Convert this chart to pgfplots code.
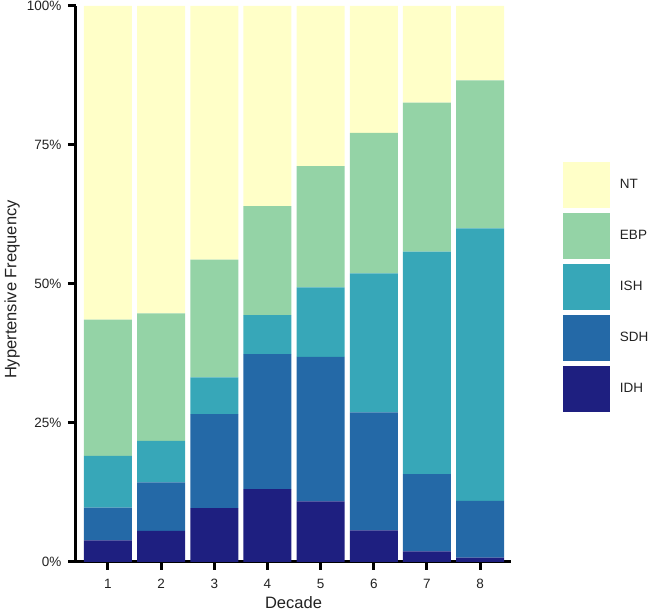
\documentclass[border=0pt]{standalone}
\usepackage{fontspec}
\setmainfont{Liberation Sans}
\usepackage{pgfplots}
\usepackage{pgfplotstable}
\pgfplotsset{compat=1.18}
\definecolor{cNT}{HTML}{FFFFC8}
\definecolor{cEBP}{HTML}{94D3A6}
\definecolor{cISH}{HTML}{37A7B8}
\definecolor{cSDH}{HTML}{2469A7}
\definecolor{cIDH}{HTML}{1E1F80}
\definecolor{txt}{HTML}{222222}
\pgfplotstableread{
x IDH SDH ISH EBP NT
1 3.9 5.9 9.3 24.5 56.4
2 5.6 8.7 7.5 22.9 55.3
3 9.7 16.9 6.6 21.2 45.6
4 13.1 24.3 7.0 19.6 36.0
5 10.9 26.0 12.5 21.8 28.8
6 5.7 21.2 25.0 25.3 22.8
7 1.9 13.9 40.0 26.8 17.4
8 0.8 10.2 49.0 26.6 13.4
}\datatable
\begin{document}
\begin{tikzpicture}
\begin{axis}[
  scale only axis,
  width=435pt, height=556pt,
  xmin=0.4, xmax=8.58, ymin=0, ymax=100,
  ybar stacked, bar width=48pt,
  axis lines*=left,
  axis line style={line width=3pt, black},
  xtick={1,...,8},
  ytick={0,25,50,75,100},
  yticklabels={0\%,25\%,50\%,75\%,100\%},
  tick align=outside,
  major tick length=8pt,
  tick style={line width=3pt, black},
  /pgf/number format/assume math mode=true,
  ticklabel style={font=\fontsize{13.5}{15}\selectfont, text=txt},
  xticklabel style={yshift=-6pt},
  yticklabel style={xshift=-3pt},
  label style={font=\fontsize{16.5}{19}\selectfont, text=txt},
  xlabel={Decade},
  ylabel={Hypertensive Frequency},
  xlabel style={at={(axis description cs:0.5,-0.0725)}, anchor=center},
  ylabel style={at={(axis description cs:-0.147,0.49)}, anchor=center, rotate=0},
  reverse legend,
  legend style={at={(axis description cs:1.1195,0.7194)}, anchor=north west,
    draw=none, fill=none, inner sep=0pt, outer sep=0pt,
    row sep=5pt, column sep=0pt,
    font=\fontsize{13.5}{15}\selectfont, text=txt,
    cells={anchor=west}},
  legend image code/.code={\fill[#1] (0pt,-23pt) rectangle (47pt,23pt);},
  legend cell align=left,
]
\addplot[fill=cIDH, draw=none] table[x=x, y=IDH] {\datatable};
\addplot[fill=cSDH, draw=none] table[x=x, y=SDH] {\datatable};
\addplot[fill=cISH, draw=none] table[x=x, y=ISH] {\datatable};
\addplot[fill=cEBP, draw=none] table[x=x, y=EBP] {\datatable};
\addplot[fill=cNT, draw=none] table[x=x, y=NT] {\datatable};
\legend{\hspace{8pt}IDH,\hspace{8pt}SDH,\hspace{8pt}ISH,\hspace{8pt}EBP,\hspace{8pt}NT}
\end{axis}
\pgfresetboundingbox
\path[use as bounding box] (-76pt,-50pt) rectangle (574pt,562pt);
\end{tikzpicture}
\end{document}
